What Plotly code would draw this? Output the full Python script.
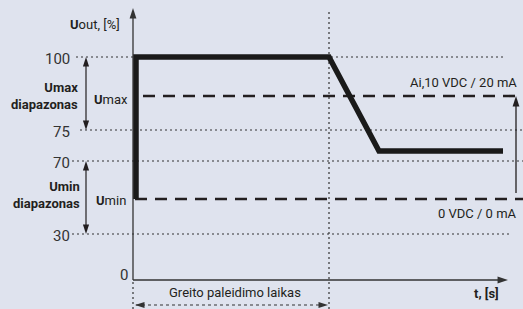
import plotly.graph_objects as go

# ---- data (schematic levels of the drawing) ----
pct_labels = ["100", "75", "70", "30", "0"]
pct_levels = [223, 150, 119, 46, 0]
u_max_level = 184
u_min_level = 81
startup_end = 196
sig_t = [3, 3, 196, 246, 370]
sig_u = [81, 223, 223, 129, 129]

BG = "#dfe3ee"
INK = "#231f20"
GREY = "#333333"
FONT = "Roboto"

fig = go.Figure()

def line(xs, ys, width=1.0, dash="solid", color=GREY):
    fig.add_trace(go.Scatter(x=xs, y=ys, mode="lines", hoverinfo="skip",
                             line=dict(color=color, width=width, dash=dash)))

def head(x, y, angle, size=11, color=GREY):
    fig.add_trace(go.Scatter(x=[x], y=[y], mode="markers", hoverinfo="skip",
                             marker=dict(symbol="arrow", size=size, angle=angle,
                                         color=color, line=dict(width=0))))

DOT = "2px,3px"
# dotted grid lines at the percentage levels
grid_ext = {"100": (-57, 372), "75": (-53, 390), "70": (-61, 390), "30": (-61, 379)}
for lab, lev in zip(pct_labels, pct_levels):
    if lab in grid_ext:
        a, b = grid_ext[lab]
        line([a, b], [lev, lev], 1.2, DOT)

# vertical dotted lines
line([startup_end, startup_end], [-29, 270], 1.2, DOT)
line([0, 0], [-29, 0], 1.2, DOT)
# bottom double arrow (startup time)
line([3, startup_end - 3], [-25, -25], 1.2, "3px,3px")
head(2, -25, 270, 10)
head(startup_end - 1, -25, 90, 10)

# dashed reference levels
line([10, 383], [u_max_level, u_max_level], 2.6, "12px,8px", INK)
line([2, 390], [u_min_level, u_min_level], 2.6, "12px,8px", INK)

# right vertical arrow
line([383, 383], [87, u_max_level - 4], 1.3, "solid", INK)
head(383, u_max_level, 0, 11, INK)

# axes
line([0, 0], [0, 266], 1.3)
head(0, 272, 0, 11)
line([0, 370], [0, 0], 1.3)
head(375, 0, 90, 11)

# left double arrows
for top, bot in [(pct_levels[0], pct_levels[1]), (pct_levels[2], pct_levels[3])]:
    line([-47, -47], [top - 4, bot + 4], 1.2, "solid", INK)
    head(-47, top, 0, 10, INK)
    head(-47, bot, 180, 10, INK)

# signal
fig.add_trace(go.Scatter(x=sig_t, y=sig_u, mode="lines", hoverinfo="skip",
                         line=dict(color="#1a1a1a", width=5.5)))

def txt(x, y, s, xanchor="left", size=13, align="left", color=INK):
    fig.add_annotation(x=x, y=y, xref="x", yref="y", text=s, showarrow=False,
                       xanchor=xanchor, yanchor="middle", align=align,
                       font=dict(family=FONT, size=size, color=color))

# tick labels
for lab, lev in zip(pct_labels, pct_levels):
    if lab == "0":
        txt(-3, lev + 5, lab, "right", 15, color="#333")
    else:
        txt(-61, lev - 2, lab, "right", 15, color="#333")

txt(-11, 256, "<b>U</b>out, [%]", "right", 13)
txt(-53, 184, "<b>Umax<br>diapazonas</b>", "right", 13, "right")
txt(-41, 181, "<b>U</b>max", "left", 13)
txt(-51, 85, "<b>Umin<br>diapazonas</b>", "right", 13, "right")
txt(-39, 80, "<b>U</b>min", "left", 13)
txt(386, 198, "Ai,10 VDC / 20 mA", "right", 13)
txt(386, 67, "0 VDC / 0 mA", "right", 13)
txt(339, -13, "<b>t, [s]</b>", "left", 13)
txt(102, -12, "Greito paleidimo laikas", "center", 13)

fig.update_layout(
    width=523, height=309, autosize=False,
    margin=dict(l=0, r=0, t=0, b=0),
    paper_bgcolor=BG, plot_bgcolor=BG,
    showlegend=False,
    xaxis=dict(visible=False, range=[-133, 390], fixedrange=True),
    yaxis=dict(visible=False, range=[-29, 280], fixedrange=True),
)

fig.write_html("out.html", config={"displayModeBar": False},
               post_script="document.body.style.margin='0';document.body.style.padding='0';")
